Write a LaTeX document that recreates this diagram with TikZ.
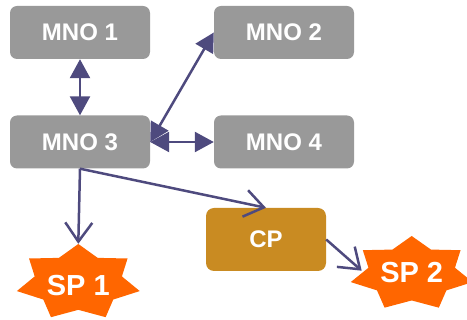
\documentclass[tikz,border=0pt]{standalone}
\usepackage{fontspec}
\setmainfont{Liberation Sans}
\usetikzlibrary{arrows.meta,shapes.geometric,calc}

\definecolor{boxgray}{HTML}{999999}
\definecolor{linkpurple}{HTML}{4E4A7E}
\definecolor{cpgold}{HTML}{C98B22}
\definecolor{sporange}{HTML}{FF6600}

% seven-pointed star, stretched to the radii #3 (horizontal) and #4 (vertical)
\newcommand\sevenstar[4]{%
  \fill[sporange] plot[samples at={0,...,13}, variable=\k]
    ({#1 + #3*(1-0.29*mod(\k,2))*cos(90+\k*180/7)},
     {#2 - #4*(1-0.29*mod(\k,2))*sin(90+\k*180/7)}) -- cycle;}

\begin{document}
\begin{tikzpicture}[x=1pt,y=-1pt,
  mno/.style={fill=boxgray, rounded corners=7pt, minimum width=140pt,
    minimum height=53pt, inner sep=0pt, text=white,
    font=\fontsize{24}{24}\selectfont\bfseries},
  cpbox/.style={mno, fill=cpgold, minimum width=120pt, minimum height=63pt,
    rounded corners=8pt},
  splabel/.style={ellipse, minimum width=124pt, inner sep=0pt, text=white,
    font=\fontsize{29}{29}\selectfont\bfseries},
  link/.style={draw=linkpurple, line width=2.5pt},
  fullhead/.tip={Triangle[length=19pt,width=20pt]},
  openhead/.tip={Straight Barb[length=19pt,width=27pt]},
  both/.style={link, fullhead-fullhead},
  flow/.style={link, -openhead},
]
\useasboundingbox (0,0) rectangle (467,320);
\clip (0,0) rectangle (467,320);

% operator boxes
\node[mno] (mno1) at (80,32.5)  {MNO 1};
\node[mno] (mno2) at (284,32.5) {MNO 2};
\node[mno] (mno3) at (80,142)   {MNO 3};
\node[mno] (mno4) at (284,142)  {MNO 4};
\node[cpbox] (cp) at (266,239.5) {CP};

% service providers
\sevenstar{78.3}{282.5}{63}{38.5}
\sevenstar{411.7}{273.7}{62.5}{37.7}
\node[splabel, minimum height=84pt] (sp1) at (78.3,286) {SP 1};
\node[splabel, minimum height=75pt] (sp2) at (411.7,272.5) {SP 2};
\coordinate (sp2in) at ($(sp2)+(-50,-1.8)$);

% links between operators
\draw[both] (mno1.south) -- (mno3.north);
\draw[both] (mno3.east) -- (mno2.west);
\draw[both] (mno3.east) -- (mno4.west);

% delivery towards providers
\draw[flow] (mno3.south) -- (sp1.north);
\draw[flow] (mno3.south) -- (cp.north);
\draw[flow] (cp.east) -- (sp2in);
\end{tikzpicture}
\end{document}
